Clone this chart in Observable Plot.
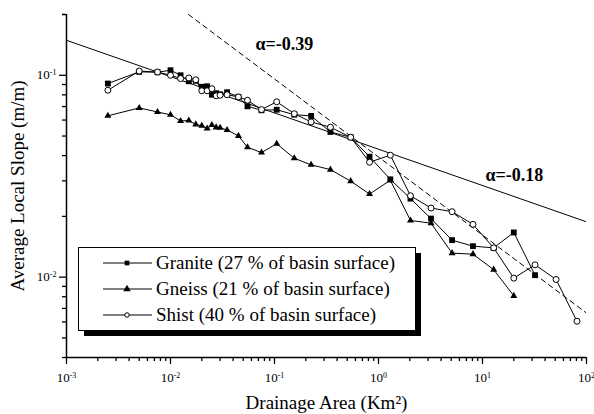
<!DOCTYPE html>
<html><head><meta charset="utf-8">
<script src="https://cdn.jsdelivr.net/npm/d3@7"></script>
<script src="https://cdn.jsdelivr.net/npm/@observablehq/plot@0.6"></script>
<style>body{margin:0;background:#fff}</style>
</head><body><div id="chart"></div>
<script>
// Drainage area bins (km²)
const areaKm2 = [0.0025,0.005,0.0075,0.01,0.0125,0.015,0.0175,0.02,0.0225,0.025,0.0275,0.03,0.035,0.045,0.055,0.075,0.105,0.155,0.225,0.345,0.54,0.82,1.3,2.03,3.2,5.1,8.1,12.8,20,32,51,81];
// Average local slope (m/m) per lithology
const graniteSlope = [0.0910,0.1040,0.1035,0.1059,0.1000,0.0934,0.0939,0.0877,0.0882,0.0801,0.0815,0.0805,0.0824,0.0782,0.0702,0.0671,0.0675,0.0638,0.0629,0.0524,0.0493,0.0395,0.0305,0.0245,0.0195,0.01525,0.01424,0.01397,0.01665,0.01023];
const gneissSlope = [0.0630,0.0689,0.0658,0.0637,0.0594,0.0597,0.0571,0.0562,0.0545,0.0567,0.0552,0.0549,0.0536,0.0501,0.0440,0.0414,0.0458,0.0388,0.0360,0.0341,0.0299,0.0258,0.0302,0.0191,0.0185,0.01315,0.0130,0.0109,0.00808];
const shistSlope = [0.0843,0.1049,0.1038,0.1000,0.0963,0.0970,0.0950,0.0838,0.0838,0.0858,0.0791,0.0796,0.0801,0.0781,0.0752,0.0676,0.0739,0.0645,0.0587,0.0553,0.0493,0.0371,0.0402,0.0253,0.0220,0.0211,0.01826,0.01397,0.00989,0.01151,0.00974,0.00605];
const seriesNames = ["Granite (27 % of basin surface)","Gneiss (21 % of basin surface)","Shist (40 % of basin surface)"];
// Power-law fits
const fitSolidArea = [0.001, 100];
const fitSolidSlope = [0.149, 0.0188];
const fitDashedArea = [0.0149, 100];
const fitDashedSlope = [0.2, 0.00664];
const fitLabels = ["α=-0.39", "α=-0.18"];
const fitLabelArea = [0.0656, 10.7];
const fitLabelSlope = [0.1424, 0.032];
// Axis ticks
const xMajor = [1e-3,1e-2,1e-1,1,10,100];
const yMajor = [0.01, 0.1];
const xMinor = [], yMinor = [];
for (let e = -3; e < 2; e++) for (let m = 2; m <= 9; m++) xMinor.push(m * Math.pow(10, e));
for (let e = -3; e < 0; e++) for (let m = 2; m <= 9; m++) { const v = m * Math.pow(10, e); if (v >= 0.004 && v <= 0.2) yMinor.push(v); }
yMinor.push(0.2);
const xTitle = "Drainage Area (Km²)";
const yTitle = "Average Local Slope (m/m)";

const rows = ys => ys.map((v, i) => ({area: areaKm2[i], slope: v}));
const fitRows = (xs, ys) => xs.map((x, i) => ({area: x, slope: ys[i]}));
const labelRows = fitLabels.map((t, i) => ({text: t, area: fitLabelArea[i], slope: fitLabelSlope[i]}));
const pow = d => { const e = Math.round(Math.log10(d)); return `10^${e}`; };

const serif = "'Liberation Serif','Times New Roman',serif";
const plot = Plot.plot({
  width: 594, height: 414,
  marginLeft: 66, marginRight: 8, marginTop: 14, marginBottom: 57,
  style: {fontFamily: serif, fontSize: "13px", color: "#000", background: "#fff"},
  x: {type: "log", domain: [1e-3, 1e2]},
  y: {type: "log", domain: [0.004, 0.2]},
  marks: [
    Plot.line(fitRows(fitSolidArea, fitSolidSlope), {x: "area", y: "slope", stroke: "#000", strokeWidth: 1, clip: true}),
    Plot.line(fitRows(fitDashedArea, fitDashedSlope), {x: "area", y: "slope", stroke: "#000", strokeWidth: 1, strokeDasharray: "5,4", clip: true}),
    Plot.line(rows(gneissSlope), {x: "area", y: "slope", stroke: "#000", strokeWidth: 1}),
    Plot.dot(rows(gneissSlope), {x: "area", y: "slope", symbol: "triangle", r: 2.6, fill: "#000", stroke: "none"}),
    Plot.line(rows(graniteSlope), {x: "area", y: "slope", stroke: "#000", strokeWidth: 1}),
    Plot.dot(rows(graniteSlope), {x: "area", y: "slope", symbol: "square", r: 3.3, fill: "#000", stroke: "none"}),
    Plot.line(rows(shistSlope), {x: "area", y: "slope", stroke: "#000", strokeWidth: 1}),
    Plot.dot(rows(shistSlope), {x: "area", y: "slope", symbol: "circle", r: 3, fill: "#fff", stroke: "#000", strokeWidth: 1}),
    Plot.ruleX([1e-3], {stroke: "#000", strokeWidth: 1.5}),
    Plot.ruleY([0.004], {stroke: "#000", strokeWidth: 1.5}),
    Plot.axisX({ticks: xMajor, tickSize: 7, tickPadding: 8, tickFormat: pow, label: null, fontSize: 13, strokeWidth: 1.3}),
    Plot.axisX({ticks: xMinor, tickSize: 4, tickFormat: () => "", label: null, strokeWidth: 1.3}),
    Plot.axisY({ticks: yMajor, tickSize: 7, tickPadding: 3, tickFormat: pow, label: null, fontSize: 13, strokeWidth: 1.3}),
    Plot.axisY({ticks: yMinor, tickSize: 4, tickFormat: () => "", label: null, strokeWidth: 1.3}),
    Plot.text([xTitle], {text: d => d, frameAnchor: "bottom", dy: 45, textAnchor: "middle", lineAnchor: "middle", fontSize: 19}),
    Plot.text([yTitle], {text: d => d, frameAnchor: "left", dx: -49, rotate: -90, textAnchor: "middle", lineAnchor: "middle", fontSize: 19}),
    Plot.text(labelRows, {x: "area", y: "slope", text: "text", textAnchor: "start", fontWeight: "bold", fontSize: 18})
  ]
});

const svg = d3.select(plot);
svg.selectAll('g[aria-label$="tick label"] text').each(function () {
  const m = /^10\^(-?\d+)$/.exec(this.textContent);
  if (!m) return;
  this.textContent = "";
  const t = d3.select(this);
  t.append("tspan").text("10");
  t.append("tspan").attr("dy", "-0.5em").attr("font-size", "8px").text(m[1]);
});

// Legend
const lg = svg.append("g").attr("text-anchor", "start");
lg.append("rect").attr("x", 84).attr("y", 253).attr("width", 337).attr("height", 83).attr("fill", "#000");
lg.append("rect").attr("x", 78.5).attr("y", 247.5).attr("width", 337).attr("height", 83).attr("fill", "#fff").attr("stroke", "#000").attr("stroke-width", 1);
const symTypes = [d3.symbolSquare, d3.symbolTriangle, d3.symbolCircle];
const symSizes = [22, 24, 16];
seriesNames.forEach((name, i) => {
  const cy = 263 + i * 26;
  lg.append("line").attr("x1", 103).attr("x2", 152).attr("y1", cy).attr("y2", cy).attr("stroke", "#000");
  lg.append("path").attr("d", d3.symbol().type(symTypes[i]).size(symSizes[i])())
    .attr("transform", `translate(127,${cy})`)
    .attr("fill", i === 2 ? "#fff" : "#000").attr("stroke", i === 2 ? "#000" : "none");
  lg.append("text").attr("x", 156).attr("y", cy).attr("dy", "0.33em").attr("text-anchor", "start")
    .attr("font-size", 19).attr("font-family", serif).attr("fill", "#000").text(name);
});

document.getElementById("chart").appendChild(plot);
</script>
</body></html>
